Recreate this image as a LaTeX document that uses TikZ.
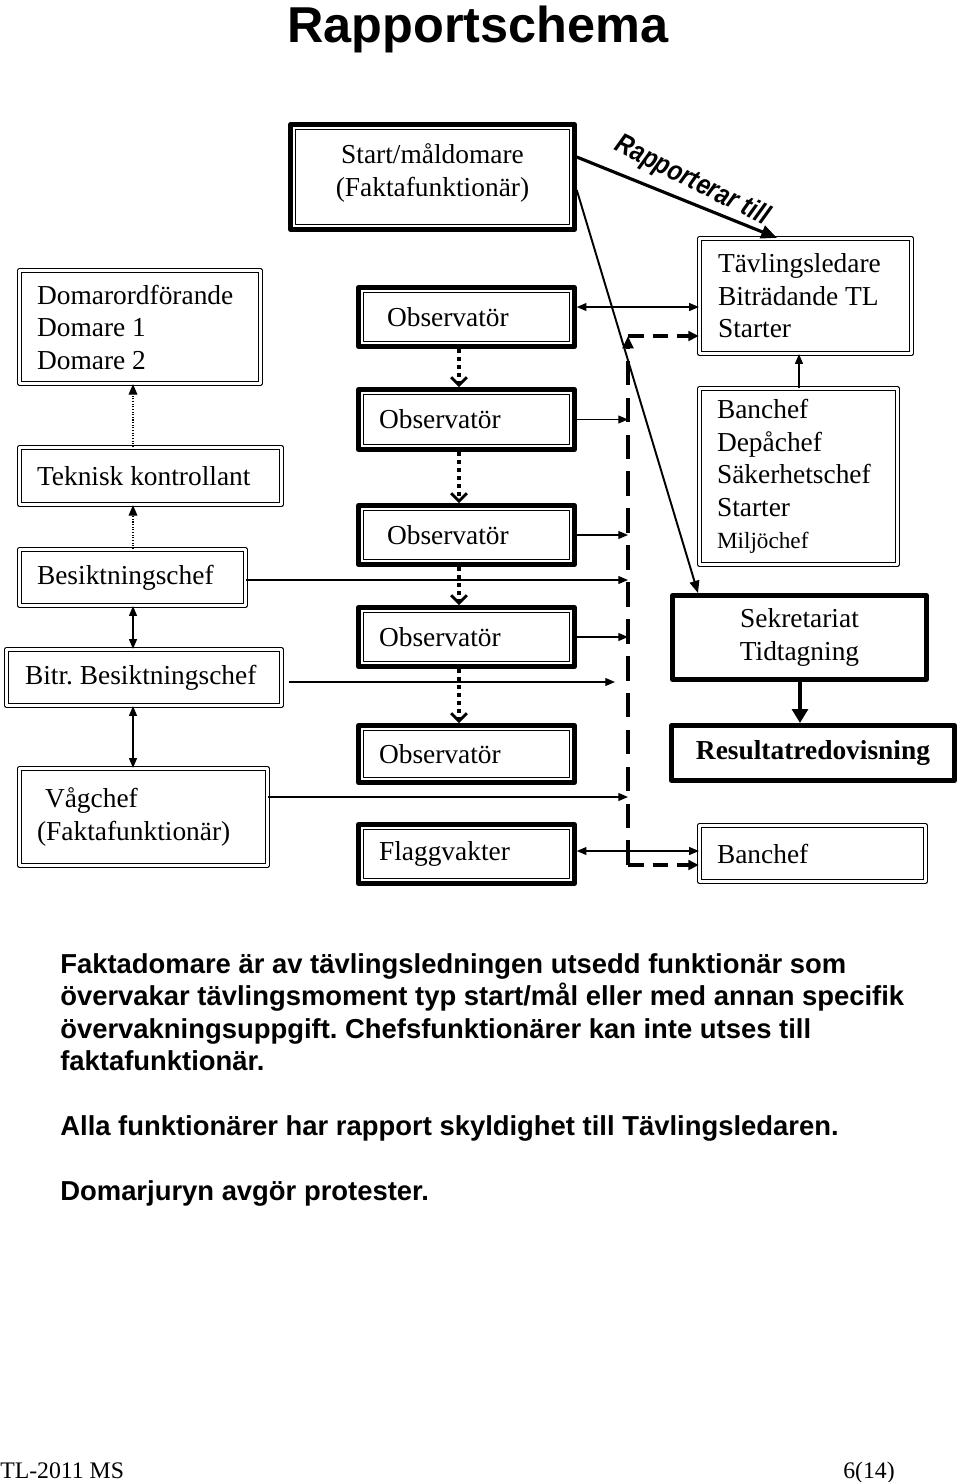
\documentclass[tikz,border=0pt]{standalone}
\usepackage{fontspec}
\setmainfont{Liberation Serif}
\setsansfont{Liberation Sans}
\newfontfamily\rapfont[FakeStretch=0.84]{Liberation Sans}
\usepackage{tikz}
\usetikzlibrary{arrows.meta}
\usetikzlibrary{calc}

\begin{document}
\begin{tikzpicture}[line join=round,x=0.02cm,y=-0.02cm,
  boxfont/.style={font=\fontsize{15.6}{18.5}\selectfont,
    execute at begin node={\frenchspacing\spaceskip=0pt\xspaceskip=0pt\hyphenpenalty=10000\relax}},
  dblbox/.style={draw,double,line width=0.75pt,double distance=1.3pt,boxfont},
  thickbox/.style={draw,line width=2.6pt,boxfont,
    path picture={\draw[line width=0.6pt]
      ([shift={(2.9pt,2.9pt)}]path picture bounding box.south west) rectangle
      ([shift={(-2.9pt,-2.9pt)}]path picture bounding box.north east);}},
  heavybox/.style={draw,line width=2.8pt,boxfont},
  lefttext/.style={align=left,inner xsep=#1},
  conn/.style={line width=0.7pt,-{Triangle[length=5.5pt,width=4.5pt]}},
  biconn/.style={line width=0.7pt,{Triangle[length=5.5pt,width=4.5pt]}-{Triangle[length=5.5pt,width=4.5pt]}},
  dotconn/.style={line width=0.6pt,dash pattern=on 0.6pt off 0.9pt,-{Triangle[length=6pt,width=5pt]}},
  obsflow/.style={line width=2.2pt,dash pattern=on 2.3pt off 2.3pt,-{Straight Barb[length=4.5pt,width=9pt,line width=1.7pt]}},
  dashline/.style={line width=2.2pt,dash pattern=on 14pt off 7pt},
  dashside/.style={line width=1.8pt,dash pattern=on 9pt off 5pt,-{Triangle[length=6pt,width=5.5pt]}}]
\useasboundingbox (0,0) rectangle (960,1482);

\node[anchor=base,inner sep=0,font=\sffamily\bfseries\fontsize{28.7}{34}\selectfont] (title) at (478,42) {Rapportschema};

% left column
\node[dblbox,lefttext=0.35cm,text width=4.12cm,minimum height=2.26cm] (dom) at (140,327) {Domarordförande\\Domare 1\\Domare 2};
\node[dblbox,lefttext=0.35cm,text width=4.54cm,minimum height=1.14cm] (tek) at (150.5,476) {Teknisk kontrollant};
\node[dblbox,lefttext=0.35cm,text width=3.82cm,minimum height=1.12cm] (besikt) at (132.5,577.5) {Besiktningschef};
\node[dblbox,lefttext=0.37cm,text width=4.76cm,minimum height=1.12cm] (bitr) at (144,677.5) {Bitr. Besiktningschef};
\node[dblbox,lefttext=0.35cm,text width=4.26cm,minimum height=1.94cm] (vag) at (143.5,817) {\hspace*{0.16cm}Vågchef\\(Faktafunktionär)};

% middle column
\node[thickbox,align=center,minimum width=5.68cm,minimum height=2.1cm] (start) at (432.5,177) {Start/måldomare\\(Faktafunktionär)\\[-0.38cm]};
\node[thickbox,lefttext=0.57cm,text width=3.18cm,minimum height=1.18cm] (obs1) at (466.5,317) {Observatör};
\node[thickbox,lefttext=0.41cm,text width=3.5cm,minimum height=1.2cm] (obs2) at (466.5,419.5) {Observatör};
\node[thickbox,lefttext=0.57cm,text width=3.18cm,minimum height=1.18cm] (obs3) at (466.5,535) {Observatör};
\node[thickbox,lefttext=0.41cm,text width=3.5cm,minimum height=1.18cm] (obs4) at (466.5,637) {Observatör};
\node[thickbox,lefttext=0.41cm,text width=3.5cm,minimum height=1.14cm] (obs5) at (466.5,754) {Observatör};
\node[thickbox,lefttext=0.41cm,text width=3.5cm,minimum height=1.18cm] (flagg) at (466.5,854) {Flaggvakter};

% right column
\node[dblbox,lefttext=0.37cm,text width=3.5cm,minimum height=2.3cm] (tav) at (805.5,296) {Tävlingsledare\\Biträdande TL\\Starter};
\node[dblbox,lefttext=0.35cm,text width=3.26cm,minimum height=3.52cm] (bc1) at (798.5,476.5) {Banchef\\Depåchef\\Säkerhetschef\\Starter\\{\fontsize{13.2}{15}\selectfont Miljöchef}};
\node[heavybox,align=center,minimum width=5.08cm,minimum height=1.68cm] (sek) at (799.5,637.5) {Sekretariat\\Tidtagning};
\node[heavybox,minimum width=5.66cm,minimum height=1.1cm] (res) at (813,753) {\bfseries Resultatredovisning};
\node[dblbox,lefttext=0.35cm,text width=3.82cm,minimum height=1.12cm] (bc2) at (812.5,853.5) {Banchef};

\coordinate (dtop) at (628,336);
\coordinate (dbot) at (628,865);

% rapporterar till
\draw[line width=1.8pt,-{Triangle[length=9pt,width=7.5pt]}] (start.east |- 0,157) -- (777,0 |- tav.north);
\node[rotate=-26.5,inner sep=0,font=\rapfont\bfseries\itshape\fontsize{16}{18}\selectfont] (rap) at (692,181) {Rapporterar till};
\draw[line width=1.1pt,-{Triangle[length=7pt,width=5.5pt]}] (start.east |- 0,190) -- (698,0 |- sek.north);

% dashed collector
\draw[dashline,-{Triangle[length=7pt,width=6pt]}] (dbot) -- (dtop);
\draw[dashside] (dtop) -- (tav.west |- dtop);
\draw[dashside] (dbot) -- (bc2.west |- dbot);

\draw[biconn] (obs1.east |- 0,307) -- (tav.west |- 0,307);
\foreach \n in {obs2,obs3,obs4}
  \draw[conn] (\n.east) -- (dtop |- \n.east);
\draw[conn] (besikt.east |- 0,580) -- (dtop |- 0,580);
\draw[conn] ($(bitr.east |- 0,682)+(7,0)$) -- (615,0 |- 0,682);
\draw[conn] (vag.east |- 0,797) -- (dtop |- 0,797);
\draw[biconn] (flagg.east |- 0,851) -- (bc2.west |- 0,851);

\foreach \a/\b in {obs1/obs2,obs2/obs3,obs3/obs4,obs4/obs5}
  \draw[obsflow] (459,0 |- \a.south) -- (459,0 |- \b.north);

\draw[dotconn] (133,0 |- tek.north) -- (133,0 |- dom.south);
\draw[dotconn] (133,0 |- besikt.north) -- (133,0 |- tek.south);
\draw[biconn] (133,0 |- besikt.south) -- (133,0 |- bitr.north);
\draw[biconn] (133,0 |- bitr.south) -- (133,0 |- vag.north);

\draw[conn] (799,0 |- bc1.north) -- (799,0 |- tav.south);
\draw[line width=2.6pt,-{Triangle[length=8pt,width=9pt]}] (800,0 |- sek.south) -- (800,0 |- res.north);

% notes
\node[anchor=north west,inner sep=0,align=left,font=\sffamily\bfseries\fontsize{15.6}{18.5}\selectfont,
  execute at begin node={\frenchspacing}] (note) at (60,953)
  {Faktadomare är av tävlingsledningen utsedd funktionär som\\
   övervakar tävlingsmoment typ start/mål eller med annan specifik\\
   övervakningsuppgift. Chefsfunktionärer kan inte utses till\\
   faktafunktionär.\\[18.5pt]
   Alla funktionärer har rapport skyldighet till Tävlingsledaren.\\[18.5pt]
   Domarjuryn avgör protester.};

\node[anchor=base west,inner sep=0,font=\fontsize{13.5}{16}\selectfont] (foot) at (0,1478) {TL-2011 MS};
\node[anchor=base east,inner sep=0,font=\fontsize{13.5}{16}\selectfont] (page) at (895,1478) {6(14)};
\end{tikzpicture}
\end{document}
